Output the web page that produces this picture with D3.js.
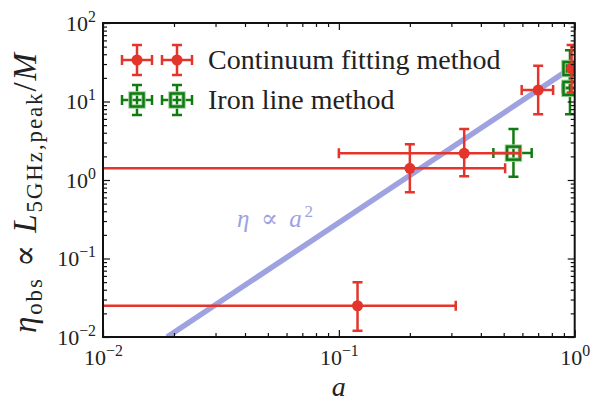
<!DOCTYPE html>
<html>
<head>
<meta charset="utf-8">
<script src="https://cdn.jsdelivr.net/npm/d3@7"></script>
<style>
  body { margin: 0; background: #fff; }
  text { font-family: "Liberation Serif", "DejaVu Serif", serif; fill: #222; }
</style>
</head>
<body>
<div id="container"></div>
<script>
/* CONSTANTS AND GLOBALS */
const width = 592,
  height = 406,
  margin = { top: 23, bottom: 69, left: 103, right: 17.3 };

const red = "#e3352b",
  green = "#107c10",
  lavender = "#9ea2e0";

/* DATA */
// continuum fitting method
const contA = [0.12, 0.2, 0.34, 0.70, 0.97];
const contALo = [0.001, 0.001, 0.10, 0.596, 0.95];
const contAHi = [0.313, 0.507, 0.586, 0.81, 1.02];
const contEta = [0.025, 1.41, 2.19, 14, 26.5];
const contEtaLo = [0.012, 0.70, 1.12, 6.9, 13.0];
const contEtaHi = [0.0498, 2.85, 4.47, 28.5, 52.5];

// iron line method
const ironA = [0.55, 0.955, 0.955];
const ironALo = [0.452, 0.92, 0.886];
const ironAHi = [0.657, 1.02, 1.02];
const ironEta = [2.2, 26.3, 14.7];
const ironEtaLo = [1.1, 15, 6.87];
const ironEtaHi = [4.45, 45, 30];

// eta ∝ a^2 guide line, end points
const lineA = [0.0187, 0.96];
const lineEta = [0.01, 26.4];

const xDomain = [0.01, 1];
const yDomain = [0.01, 100];
const xMajor = [0.01, 0.1, 1];
const yMajor = [0.01, 0.1, 1, 10, 100];
const legendLabels = ["Continuum fitting method", "Iron line method"];

const cont = contA.map((a, i) => ({ a, aLo: contALo[i], aHi: contAHi[i], eta: contEta[i], etaLo: contEtaLo[i], etaHi: contEtaHi[i] }));
const iron = ironA.map((a, i) => ({ a, aLo: ironALo[i], aHi: ironAHi[i], eta: ironEta[i], etaLo: ironEtaLo[i], etaHi: ironEtaHi[i] }));

const svg = d3.select("#container")
  .append("svg")
  .attr("width", width)
  .attr("height", height);

// SCALES
const x = d3.scaleLog().domain(xDomain).range([margin.left, width - margin.right]);
const y = d3.scaleLog().domain(yDomain).range([height - margin.bottom, margin.top]);

// minor ticks 2..9 of each decade
const minorOf = (dom) => {
  const out = [];
  for (let e = Math.round(Math.log10(dom[0])); e < Math.round(Math.log10(dom[1])); e++) {
    for (let k = 2; k <= 9; k++) out.push(k * Math.pow(10, e));
  }
  return out;
};

svg.append("clipPath").attr("id", "plot")
  .append("rect")
  .attr("x", x.range()[0]).attr("y", y.range()[1])
  .attr("width", x.range()[1] - x.range()[0])
  .attr("height", y.range()[0] - y.range()[1]);

const plot = svg.append("g").attr("clip-path", "url(#plot)");

// GUIDE LINE
plot.append("path")
  .datum(lineA.map((a, i) => [a, lineEta[i]]))
  .attr("d", d3.line(d => x(d[0]), d => y(d[1])))
  .attr("stroke", lavender)
  .attr("stroke-width", 5.5)
  .attr("fill", "none");

// ERROR BAR DRAWING
const cap = 5;
function errorBars(g, data, color) {
  const eb = g.selectAll("g.eb")
    .data(data)
    .join("g")
    .attr("class", "eb")
    .attr("stroke", color)
    .attr("stroke-width", 2.5);
  // horizontal
  eb.append("line")
    .attr("x1", d => x(d.aLo)).attr("x2", d => x(d.aHi))
    .attr("y1", d => y(d.eta)).attr("y2", d => y(d.eta));
  eb.append("line")
    .attr("x1", d => x(d.aLo)).attr("x2", d => x(d.aLo))
    .attr("y1", d => y(d.eta) - cap).attr("y2", d => y(d.eta) + cap);
  eb.append("line")
    .attr("x1", d => x(d.aHi)).attr("x2", d => x(d.aHi))
    .attr("y1", d => y(d.eta) - cap).attr("y2", d => y(d.eta) + cap);
  // vertical
  eb.append("line")
    .attr("x1", d => x(d.a)).attr("x2", d => x(d.a))
    .attr("y1", d => y(d.etaLo)).attr("y2", d => y(d.etaHi));
  eb.append("line")
    .attr("x1", d => x(d.a) - cap).attr("x2", d => x(d.a) + cap)
    .attr("y1", d => y(d.etaLo)).attr("y2", d => y(d.etaLo));
  eb.append("line")
    .attr("x1", d => x(d.a) - cap).attr("x2", d => x(d.a) + cap)
    .attr("y1", d => y(d.etaHi)).attr("y2", d => y(d.etaHi));
}

function squareMark(g, cx, cy) {
  g.append("rect").attr("x", cx - 6.5).attr("y", cy - 6.5).attr("width", 13).attr("height", 13)
    .attr("fill", "none").attr("stroke", "#9fd09f").attr("stroke-width", 4.5);
  g.append("rect").attr("x", cx - 6.5).attr("y", cy - 6.5).attr("width", 13).attr("height", 13)
    .attr("fill", "none").attr("stroke", green).attr("stroke-width", 2.5);
}

// iron line (drawn first, continuum on top)
const ironG = plot.append("g");
errorBars(ironG, iron, green);
iron.forEach(d => squareMark(ironG, x(d.a), y(d.eta)));

const contG = plot.append("g");
errorBars(contG, cont, red);
contG.selectAll("circle")
  .data(cont)
  .join("circle")
  .attr("cx", d => x(d.a))
  .attr("cy", d => y(d.eta))
  .attr("r", 5.5)
  .attr("fill", red);

// guide label
const gl = svg.append("text")
  .attr("x", 237).attr("y", 227)
  .attr("font-size", 25)
  .attr("textLength", 76)
  .attr("lengthAdjust", "spacing")
  .style("fill", lavender);
gl.append("tspan").attr("font-style", "italic").text("η");
gl.append("tspan").text(" ∝ ");
gl.append("tspan").attr("font-style", "italic").text("a");
gl.append("tspan").attr("dy", -10).attr("font-size", 17).text("2");

// AXES
const sup = (sel) => sel.selectAll(".tick text").each(function (d) {
  const t = d3.select(this).text(null);
  t.append("tspan").text("10");
  t.append("tspan").attr("dy", "-0.55em").attr("font-size", "0.72em")
    .text(String(Math.round(Math.log10(d))).replace("-", "\u2212"));
});

const styleAxis = (g) => {
  g.select(".domain").remove();
  g.selectAll(".tick line").attr("stroke", "#111").attr("stroke-width", 1.2);
  g.selectAll(".tick text").attr("font-size", 22).style("fill", "#222");
};

const axBottom = svg.append("g").attr("transform", `translate(0,${y.range()[0]})`);
axBottom.append("g").call(d3.axisBottom(x).tickValues(xMajor).tickSize(-7).tickPadding(12)).call(styleAxis).call(sup);
axBottom.append("g").call(d3.axisBottom(x).tickValues(minorOf(xDomain)).tickSize(-4).tickFormat("")).call(styleAxis);

const axTop = svg.append("g").attr("transform", `translate(0,${y.range()[1]})`);
axTop.append("g").call(d3.axisTop(x).tickValues(xMajor).tickSize(-7).tickFormat("")).call(styleAxis);
axTop.append("g").call(d3.axisTop(x).tickValues(minorOf(xDomain)).tickSize(-4).tickFormat("")).call(styleAxis);

const axLeft = svg.append("g").attr("transform", `translate(${x.range()[0]},0)`);
axLeft.append("g").call(d3.axisLeft(y).tickValues(yMajor).tickSize(-7).tickPadding(7)).call(styleAxis).call(sup);
axLeft.append("g").call(d3.axisLeft(y).tickValues(minorOf(yDomain)).tickSize(-4).tickFormat("")).call(styleAxis);

const axRight = svg.append("g").attr("transform", `translate(${x.range()[1]},0)`);
axRight.append("g").call(d3.axisRight(y).tickValues(yMajor).tickSize(-7).tickFormat("")).call(styleAxis);
axRight.append("g").call(d3.axisRight(y).tickValues(minorOf(yDomain)).tickSize(-4).tickFormat("")).call(styleAxis);

// frame
svg.append("rect")
  .attr("x", x.range()[0]).attr("y", y.range()[1])
  .attr("width", x.range()[1] - x.range()[0])
  .attr("height", y.range()[0] - y.range()[1])
  .attr("fill", "none").attr("stroke", "#111").attr("stroke-width", 2);

// AXIS LABELS
svg.append("text")
  .attr("x", (x.range()[0] + x.range()[1]) / 2).attr("y", 396)
  .attr("text-anchor", "middle")
  .attr("font-size", 28).attr("font-style", "italic")
  .text("a");

const yl = svg.append("text")
  .attr("transform", "translate(36,193) rotate(-90)")
  .attr("text-anchor", "middle")
  .attr("font-size", 33)
  .attr("textLength", 280)
  .attr("lengthAdjust", "spacing");
yl.append("tspan").attr("font-style", "italic").text("η");
yl.append("tspan").attr("font-size", 23).attr("dy", 6).text("obs");
yl.append("tspan").attr("dy", -6).text(" ∝ ");
yl.append("tspan").attr("font-style", "italic").text("L");
yl.append("tspan").attr("font-size", 23).attr("dy", 6).text("5GHz,peak");
yl.append("tspan").attr("dy", -6).text("/");
yl.append("tspan").attr("font-style", "italic").text("M");

// LEGEND
const legend = svg.append("g");
const legY = [60, 100];
const legX = [137, 177];
legendLabels.forEach((lab, i) => {
  const color = i === 0 ? red : green;
  legX.forEach(cx => {
    const cy = legY[i];
    const gm = legend.append("g").attr("stroke", color).attr("stroke-width", 2.5);
    gm.append("line").attr("x1", cx - 15).attr("x2", cx + 15).attr("y1", cy).attr("y2", cy);
    gm.append("line").attr("x1", cx - 15).attr("x2", cx - 15).attr("y1", cy - cap).attr("y2", cy + cap);
    gm.append("line").attr("x1", cx + 15).attr("x2", cx + 15).attr("y1", cy - cap).attr("y2", cy + cap);
    gm.append("line").attr("x1", cx).attr("x2", cx).attr("y1", cy - 15).attr("y2", cy + 15);
    gm.append("line").attr("x1", cx - cap).attr("x2", cx + cap).attr("y1", cy - 15).attr("y2", cy - 15);
    gm.append("line").attr("x1", cx - cap).attr("x2", cx + cap).attr("y1", cy + 15).attr("y2", cy + 15);
    if (i === 0) {
      legend.append("circle").attr("cx", cx).attr("cy", cy).attr("r", 5.5).attr("fill", red);
    } else {
      squareMark(legend, cx, cy);
    }
  });
  legend.append("text")
    .attr("x", 208).attr("y", legY[i] + 9)
    .attr("font-size", 28)
    .text(lab);
});
</script>
</body>
</html>
